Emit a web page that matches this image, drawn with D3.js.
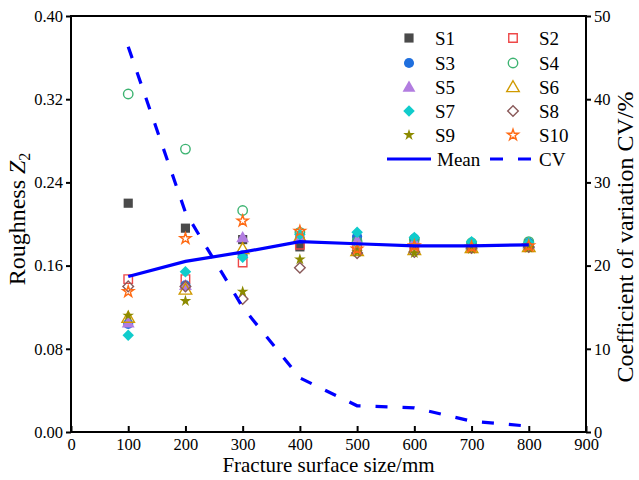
<!DOCTYPE html>
<html>
<head>
<meta charset="utf-8">
<script src="https://cdn.jsdelivr.net/npm/d3@7"></script>
<style>
  html, body { margin: 0; padding: 0; background: #fff; }
  svg { display: block; font-family: "Liberation Serif", "Times New Roman", serif; }
</style>
</head>
<body>
<svg id="chart" width="639" height="480"></svg>
<script>
// Fracture surface sizes (mm)
const sizes = [100, 200, 300, 400, 500, 600, 700, 800];

// Roughness Z2 of each sample at every size
const S1  = [0.220, 0.196, 0.185, 0.178, 0.185, 0.180, 0.179, 0.180];
const S2  = [0.147, 0.147, 0.163, 0.180, 0.178, 0.178, 0.178, 0.179];
const S3  = [0.104, 0.141, 0.170, 0.186, 0.188, 0.186, 0.181, 0.182];
const S4  = [0.325, 0.272, 0.213, 0.192, 0.183, 0.185, 0.182, 0.183];
const S5  = [0.105, 0.141, 0.187, 0.188, 0.184, 0.183, 0.180, 0.181];
const S6  = [0.110, 0.137, 0.176, 0.187, 0.174, 0.175, 0.177, 0.178];
const S7  = [0.093, 0.154, 0.168, 0.190, 0.192, 0.187, 0.183, 0.182];
const S8  = [0.140, 0.140, 0.128, 0.158, 0.172, 0.173, 0.177, 0.178];
const S9  = [0.112, 0.126, 0.135, 0.166, 0.173, 0.172, 0.176, 0.177];
const S10 = [0.135, 0.186, 0.203, 0.193, 0.176, 0.179, 0.178, 0.179];

// Mean roughness and coefficient of variation (%)
const meanZ2 = [0.1495, 0.164, 0.173, 0.183, 0.181, 0.179, 0.179, 0.180];
const cvPct  = [46.3, 26.4, 15.0, 6.5, 3.15, 2.9, 1.3, 0.7];

// Axis ticks
const xTicks  = [0, 100, 200, 300, 400, 500, 600, 700, 800, 900];
const yTicks  = [0.00, 0.08, 0.16, 0.24, 0.32, 0.40];
const y2Ticks = [0, 10, 20, 30, 40, 50];

const seriesNames = ["S1", "S2", "S3", "S4", "S5", "S6", "S7", "S8", "S9", "S10"];
const seriesValues = [S1, S2, S3, S4, S5, S6, S7, S8, S9, S10];

// Marker styling per sample
const markerStyle = [
  { shape: "square",   fill: true,  color: "#4a4a4a" },
  { shape: "square",   fill: false, color: "#ee4848" },
  { shape: "circle",   fill: true,  color: "#1f6fde" },
  { shape: "circle",   fill: false, color: "#3cb371" },
  { shape: "triangle", fill: true,  color: "#b27de0" },
  { shape: "triangle", fill: false, color: "#d09a00" },
  { shape: "diamond",  fill: true,  color: "#10cccc" },
  { shape: "diamond",  fill: false, color: "#8a5a5a" },
  { shape: "star",     fill: true,  color: "#8c8a00" },
  { shape: "star",     fill: false, color: "#ff6a13" }
];

const W = 639, H = 480;
const margin = { left: 71, right: 53, top: 16, bottom: 48 };
const plotW = W - margin.left - margin.right;
const plotH = H - margin.top - margin.bottom;

const svg = d3.select("#chart");
const g = svg.append("g").attr("transform", `translate(${margin.left},${margin.top})`);

const x = d3.scaleLinear().domain([0, 900]).range([0, plotW]);
const y = d3.scaleLinear().domain([0, 0.40]).range([plotH, 0]);
const y2 = d3.scaleLinear().domain([0, 50]).range([plotH, 0]);

const symbolFor = {
  square: d3.symbol().type(d3.symbolSquare).size(84),
  circle: d3.symbol().type(d3.symbolCircle).size(80),
  triangle: d3.symbol().type(d3.symbolTriangle).size(72),
  diamond: d3.symbol().type(d3.symbolSquare).size(66),
  star: d3.symbol().type(d3.symbolStar).size(42)
};
const openSymbolFor = {
  square: d3.symbol().type(d3.symbolSquare).size(72),
  circle: d3.symbol().type(d3.symbolCircle).size(70),
  triangle: d3.symbol().type(d3.symbolTriangle).size(68),
  diamond: d3.symbol().type(d3.symbolSquare).size(56),
  star: d3.symbol().type(d3.symbolStar).size(38)
};

function drawMarker(sel, st) {
  const gen = st.fill ? symbolFor[st.shape] : openSymbolFor[st.shape];
  sel.append("path")
    .attr("d", gen())
    .attr("transform", st.shape === "diamond" ? "rotate(45)" : (st.shape === "triangle" ? "translate(0,1)" : null))
    .attr("fill", st.fill ? st.color : "none")
    .attr("stroke", st.color)
    .attr("stroke-width", st.fill ? 0 : 1.4);
}

// Scatter markers for each sample
seriesValues.forEach((vals, i) => {
  const st = markerStyle[i];
  const grp = g.append("g").attr("class", "series-" + seriesNames[i]);
  vals.forEach((v, j) => {
    const m = grp.append("g").attr("transform", `translate(${x(sizes[j])},${y(v)})`);
    drawMarker(m, st);
  });
});

// Mean line (left axis)
g.append("path")
  .datum(sizes.map((s, i) => [s, meanZ2[i]]))
  .attr("fill", "none")
  .attr("stroke", "#0000ff")
  .attr("stroke-width", 3.2)
  .attr("d", d3.line().x(d => x(d[0])).y(d => y(d[1])));

// CV line (right axis)
g.append("path")
  .datum(sizes.map((s, i) => [s, cvPct[i]]))
  .attr("fill", "none")
  .attr("stroke", "#0000ff")
  .attr("stroke-width", 3.2)
  .attr("stroke-dasharray", "12,15")
  .attr("d", d3.line().x(d => x(d[0])).y(d => y2(d[1])));

// Axes
const tickFont = 16.5;
const axisStyle = sel => {
  sel.attr("font-family", null).attr("font-size", null);
  sel.select(".domain").remove();
  sel.selectAll("line").attr("stroke", "#000").attr("stroke-width", 2);
  sel.selectAll("text").attr("font-size", tickFont).attr("fill", "#000");
};

g.append("g")
  .attr("transform", `translate(0,${plotH})`)
  .call(d3.axisBottom(x).tickValues(xTicks).tickFormat(d3.format("d")).tickSizeInner(-6).tickSizeOuter(0).tickPadding(6))
  .call(axisStyle);

g.append("g")
  .call(d3.axisLeft(y).tickValues(yTicks).tickFormat(d3.format(".2f")).tickSizeInner(5).tickSizeOuter(0).tickPadding(3))
  .call(axisStyle);

g.append("g")
  .attr("transform", `translate(${plotW},0)`)
  .call(d3.axisRight(y2).tickValues(y2Ticks).tickFormat(d3.format("d")).tickSizeInner(5).tickSizeOuter(0).tickPadding(3))
  .call(axisStyle);

// Frame
g.append("rect")
  .attr("x", 0).attr("y", 0).attr("width", plotW).attr("height", plotH)
  .attr("fill", "none").attr("stroke", "#000").attr("stroke-width", 2);

// Axis titles
svg.append("text")
  .attr("x", margin.left + plotW / 2).attr("y", 472)
  .attr("text-anchor", "middle").attr("font-size", 21)
  .text("Fracture surface size/mm");

const yt = svg.append("text")
  .attr("transform", `translate(25,219) rotate(-90)`)
  .attr("text-anchor", "middle").attr("font-size", 24);
yt.append("tspan").text("Roughness ");
yt.append("tspan").attr("font-style", "italic").text("Z");
yt.append("tspan").attr("font-size", 16).attr("dy", 5).text("2");

svg.append("text")
  .attr("transform", `translate(633,237) rotate(-90)`)
  .attr("text-anchor", "middle").attr("font-size", 24)
  .text("Coefficient of variation CV/%");

// Legend
const legend = svg.append("g");
const rowY = [38, 63, 87, 111, 135];
seriesNames.forEach((name, i) => {
  const col = i % 2, row = Math.floor(i / 2);
  const mx = col === 0 ? 409 : 513;
  const tx = col === 0 ? 435 : 539;
  const m = legend.append("g").attr("transform", `translate(${mx},${rowY[row]})`);
  drawMarker(m, markerStyle[i]);
  legend.append("text").attr("x", tx).attr("y", rowY[row]).attr("dy", "0.35em")
    .attr("font-size", 19).text(name);
});
legend.append("line").attr("x1", 387).attr("x2", 431).attr("y1", 159).attr("y2", 159)
  .attr("stroke", "#0000ff").attr("stroke-width", 3.2);
legend.append("text").attr("x", 437).attr("y", 159).attr("dy", "0.35em").attr("font-size", 19).text("Mean");
legend.append("line").attr("x1", 490).attr("x2", 532).attr("y1", 159).attr("y2", 159)
  .attr("stroke", "#0000ff").attr("stroke-width", 3.2).attr("stroke-dasharray", "13,15");
legend.append("text").attr("x", 539).attr("y", 159).attr("dy", "0.35em").attr("font-size", 19).text("CV");
</script>
</body>
</html>
